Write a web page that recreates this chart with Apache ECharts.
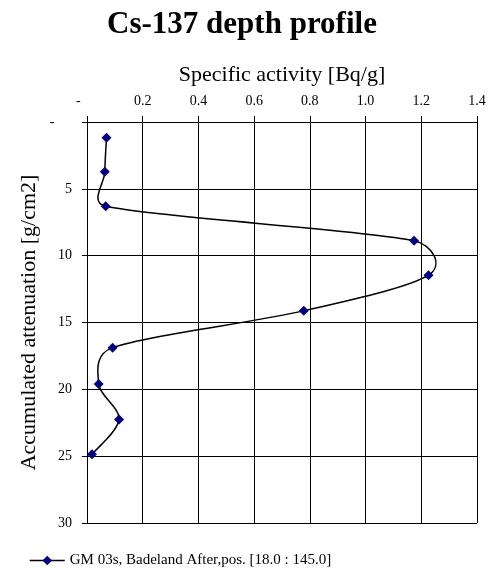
<!DOCTYPE html>
<html>
<head>
<meta charset="utf-8">
<script src="https://cdn.jsdelivr.net/npm/echarts@6/dist/echarts.min.js"></script>
<style>
  html, body { margin: 0; padding: 0; background: #fff; }
  #chart { width: 496px; height: 574px; }
</style>
</head>
<body>
<div id="chart"></div>
<script>
// Cs-137 specific activity measured down the core [Bq/g]
var activity = [0.070, 0.064, 0.067, 1.174, 1.226, 0.778, 0.092, 0.042, 0.115, 0.018];
// Accumulated mass depth of each sample [g/cm2]
var depth = [1.18, 3.73, 6.31, 8.88, 11.46, 14.13, 16.88, 19.61, 22.26, 24.86];

var activityTicks = { min: 0, max: 1.4, step: 0.2 };
var depthTicks = { min: 0, max: 30, step: 5 };

var seriesName = 'GM 03s, Badeland After,pos. [18.0 : 145.0]';
var titleText = 'Cs-137 depth profile';
var xName = 'Specific activity [Bq/g]';
var yName = 'Accumulated attenuation [g/cm2]';

var serif = "'Liberation Serif', 'Times New Roman', serif";

var points = activity.map(function (a, i) { return [a, depth[i]]; });

// Spreadsheet-style smoothing: cubic Bezier segments whose tangents follow
// the neighbouring points, shortened so a control arm never exceeds half
// of its own segment.
function smoothPath(px) {
  function dist(a, b) { return Math.hypot(b[0] - a[0], b[1] - a[1]); }
  var d = 'M' + px[0][0] + ' ' + px[0][1];
  for (var i = 0; i < px.length - 1; i++) {
    var p0 = px[i - 1] || px[i];
    var p1 = px[i];
    var p2 = px[i + 1];
    var p3 = px[i + 2] || px[i + 1];
    var seg = dist(p1, p2);
    var t1 = dist(p0, p2), t2 = dist(p1, p3);
    var f1 = t1 > 0 ? Math.min(1 / 6, seg / 2 / t1) : 0;
    var f2 = t2 > 0 ? Math.min(1 / 6, seg / 2 / t2) : 0;
    var c1 = [p1[0] + (p2[0] - p0[0]) * f1, p1[1] + (p2[1] - p0[1]) * f1];
    var c2 = [p2[0] - (p3[0] - p1[0]) * f2, p2[1] - (p3[1] - p1[1]) * f2];
    d += ' C' + c1[0] + ' ' + c1[1] + ' ' + c2[0] + ' ' + c2[1] + ' ' + p2[0] + ' ' + p2[1];
  }
  return d;
}

var chart = echarts.init(document.getElementById('chart'), null, { renderer: 'canvas' });
chart.setOption({
  animation: false,
  backgroundColor: '#fff',
  textStyle: { fontFamily: serif, color: '#000' },
  title: {
    text: titleText,
    left: 242,
    top: 9,
    padding: 0,
    textAlign: 'center',
    textStyle: { fontFamily: serif, fontWeight: 'bold', fontSize: 31, color: '#000' }
  },
  grid: { left: 87, right: 19, top: 122, bottom: 51, containLabel: false },
  xAxis: {
    type: 'value',
    position: 'top',
    min: activityTicks.min,
    max: activityTicks.max,
    interval: activityTicks.step,
    name: xName,
    nameLocation: 'middle',
    nameGap: 36,
    nameMoveOverlap: false,
    nameTextStyle: { fontFamily: serif, fontSize: 22, color: '#000' },
    axisLine: { show: true, lineStyle: { color: '#000', width: 1 } },
    axisTick: { show: true, length: 6, lineStyle: { color: '#000' } },
    axisLabel: {
      margin: 14,
      fontFamily: serif, fontSize: 14, color: '#000',
      formatter: function (v) { return v === 0 ? '-     ' : v.toFixed(1); }
    },
    splitLine: { show: true, lineStyle: { color: '#000', width: 1 } }
  },
  yAxis: {
    type: 'value',
    inverse: true,
    min: depthTicks.min,
    max: depthTicks.max,
    interval: depthTicks.step,
    name: yName,
    nameLocation: 'middle',
    nameGap: 47,
    nameMoveOverlap: false,
    nameTextStyle: { fontFamily: serif, fontSize: 22, color: '#000' },
    axisLine: { show: true, lineStyle: { color: '#000', width: 1 } },
    axisTick: { show: true, length: 5, lineStyle: { color: '#000' } },
    axisLabel: {
      margin: 15,
      fontFamily: serif, fontSize: 14, color: '#000',
      formatter: function (v) { return v === 0 ? '-     ' : String(v); }
    },
    splitLine: { show: true, lineStyle: { color: '#000', width: 1 } }
  },
  legend: {
    left: 24,
    top: 548,
    itemWidth: 35,
    itemHeight: 12,
    itemGap: 5,
    textStyle: { fontFamily: serif, fontSize: 15, color: '#000' },
    lineStyle: { color: '#000', width: 1.5, opacity: 1 },
    data: [seriesName]
  },
  series: [{
    name: 'profile curve',
    type: 'custom',
    silent: true,
    z: 2,
    data: points,
    renderItem: function (params, api) {
      if (params.dataIndex !== 0) return null;
      var px = points.map(function (p) { return api.coord(p); });
      return {
        type: 'path',
        shape: { pathData: smoothPath(px) },
        style: { fill: 'none', stroke: '#000', lineWidth: 1.5 }
      };
    }
  }, {
    name: seriesName,
    type: 'line',
    z: 3,
    data: points,
    symbol: 'diamond',
    symbolSize: 10,
    itemStyle: { color: '#000080' },
    lineStyle: { color: '#000', width: 1.5, opacity: 0 }
  }]
});
</script>
</body>
</html>
